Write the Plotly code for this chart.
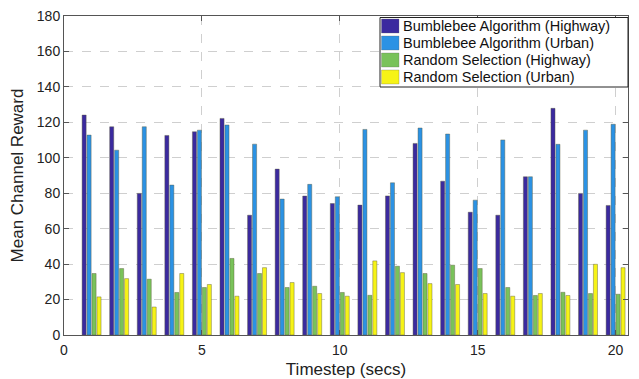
import plotly.graph_objects as go

timesteps = list(range(1, 21))
bee_highway = [124.1, 117.5, 79.9, 112.6, 114.7, 122.2, 67.6, 93.6, 78.4, 74.2,
               73.3, 78.5, 108.1, 86.8, 69.3, 67.6, 89.3, 127.9, 79.9, 73.1]
bee_urban = [112.8, 104.3, 117.5, 84.6, 115.6, 118.5, 107.7, 76.7, 85.0, 78.0,
             116.0, 85.9, 116.8, 113.4, 76.1, 110.1, 89.3, 107.6, 115.6, 118.9]
rand_highway = [34.7, 37.5, 31.5, 24.0, 26.8, 43.2, 34.7, 26.8, 27.5, 24.0,
                22.4, 38.8, 34.7, 39.4, 37.5, 26.8, 22.3, 24.1, 23.4, 23.0]
rand_urban = [21.5, 31.8, 15.8, 34.7, 28.5, 21.9, 38.0, 29.6, 23.4, 21.9,
              41.8, 35.2, 29.0, 28.5, 23.4, 21.9, 23.4, 22.3, 39.9, 38.0]

series_names = ["Bumblebee Algorithm (Highway)", "Bumblebee Algorithm (Urban)",
                "Random Selection (Highway)", "Random Selection (Urban)"]
series_values = [bee_highway, bee_urban, rand_highway, rand_urban]
series_colors = ["#3b2a9f", "#2b92e4", "#79c25a", "#f6f316"]

W, H = 639, 379
ML, MR, MT, MB = 64, 11, 16, 44
PW, PH = W - ML - MR, H - MT - MB


def px_x(p):
    return (p - ML) / PW


def px_y(p):
    return (H - MB - p) / PH


fig = go.Figure()
for name, vals, col in zip(series_names, series_values, series_colors):
    fig.add_trace(go.Bar(x=timesteps, y=vals, name=name, showlegend=False,
                         marker=dict(color=col, line=dict(color="rgba(90,90,60,0.7)", width=0.6))))

font = "Liberation Sans, Arial, Helvetica, sans-serif"
axis_common = dict(showline=True, linecolor="#555", linewidth=1, mirror="ticks",
                   ticks="inside", ticklen=5, tickcolor="#555",
                   showgrid=True, gridcolor="#cfcfcf", griddash="dash", gridwidth=1,
                   zeroline=False, tickfont=dict(size=14, color="#222"))

# custom legend (box, swatches, labels)
step = 17
shapes = [dict(type="rect", xref="paper", yref="paper",
               x0=px_x(380), x1=px_x(628), y0=px_y(18 + 4 * step + 1), y1=px_y(17.5),
               line=dict(color="#222", width=1), fillcolor="white", layer="above")]
annotations = []
for i, (name, col) in enumerate(zip(series_names, series_colors)):
    top = 19 + i * step
    shapes.append(dict(type="rect", xref="paper", yref="paper",
                       x0=px_x(381.5), x1=px_x(399), y0=px_y(top + 14), y1=px_y(top),
                       line=dict(color="rgba(100,100,100,0.6)", width=0.5),
                       fillcolor=col, layer="above"))
    annotations.append(dict(xref="paper", yref="paper", x=px_x(400.5), y=px_y(top + 7.3),
                            xanchor="left", yanchor="middle", showarrow=False,
                            text=name, font=dict(size=14.5, color="#111", family=font)))

fig.update_layout(
    width=W, height=H,
    margin=dict(l=ML, r=MR, t=MT, b=MB),
    paper_bgcolor="white", plot_bgcolor="white",
    font=dict(family=font, color="#222"),
    barmode="group", bargap=0.28, bargroupgap=0.18,
    showlegend=False,
    xaxis=dict(range=[0, 20.45], tickvals=[0, 5, 10, 15, 20], ticklabelstandoff=2,
               automargin=False,
               title=dict(text="Timestep (secs)", font=dict(size=17)),
               **axis_common),
    yaxis=dict(range=[0, 180], tickvals=list(range(0, 181, 20)),
               automargin="left",
               title=dict(text="Mean Channel Reward", font=dict(size=17), standoff=8),
               **axis_common),
    shapes=shapes,
    annotations=annotations,
)

fig.write_html("out.html")
